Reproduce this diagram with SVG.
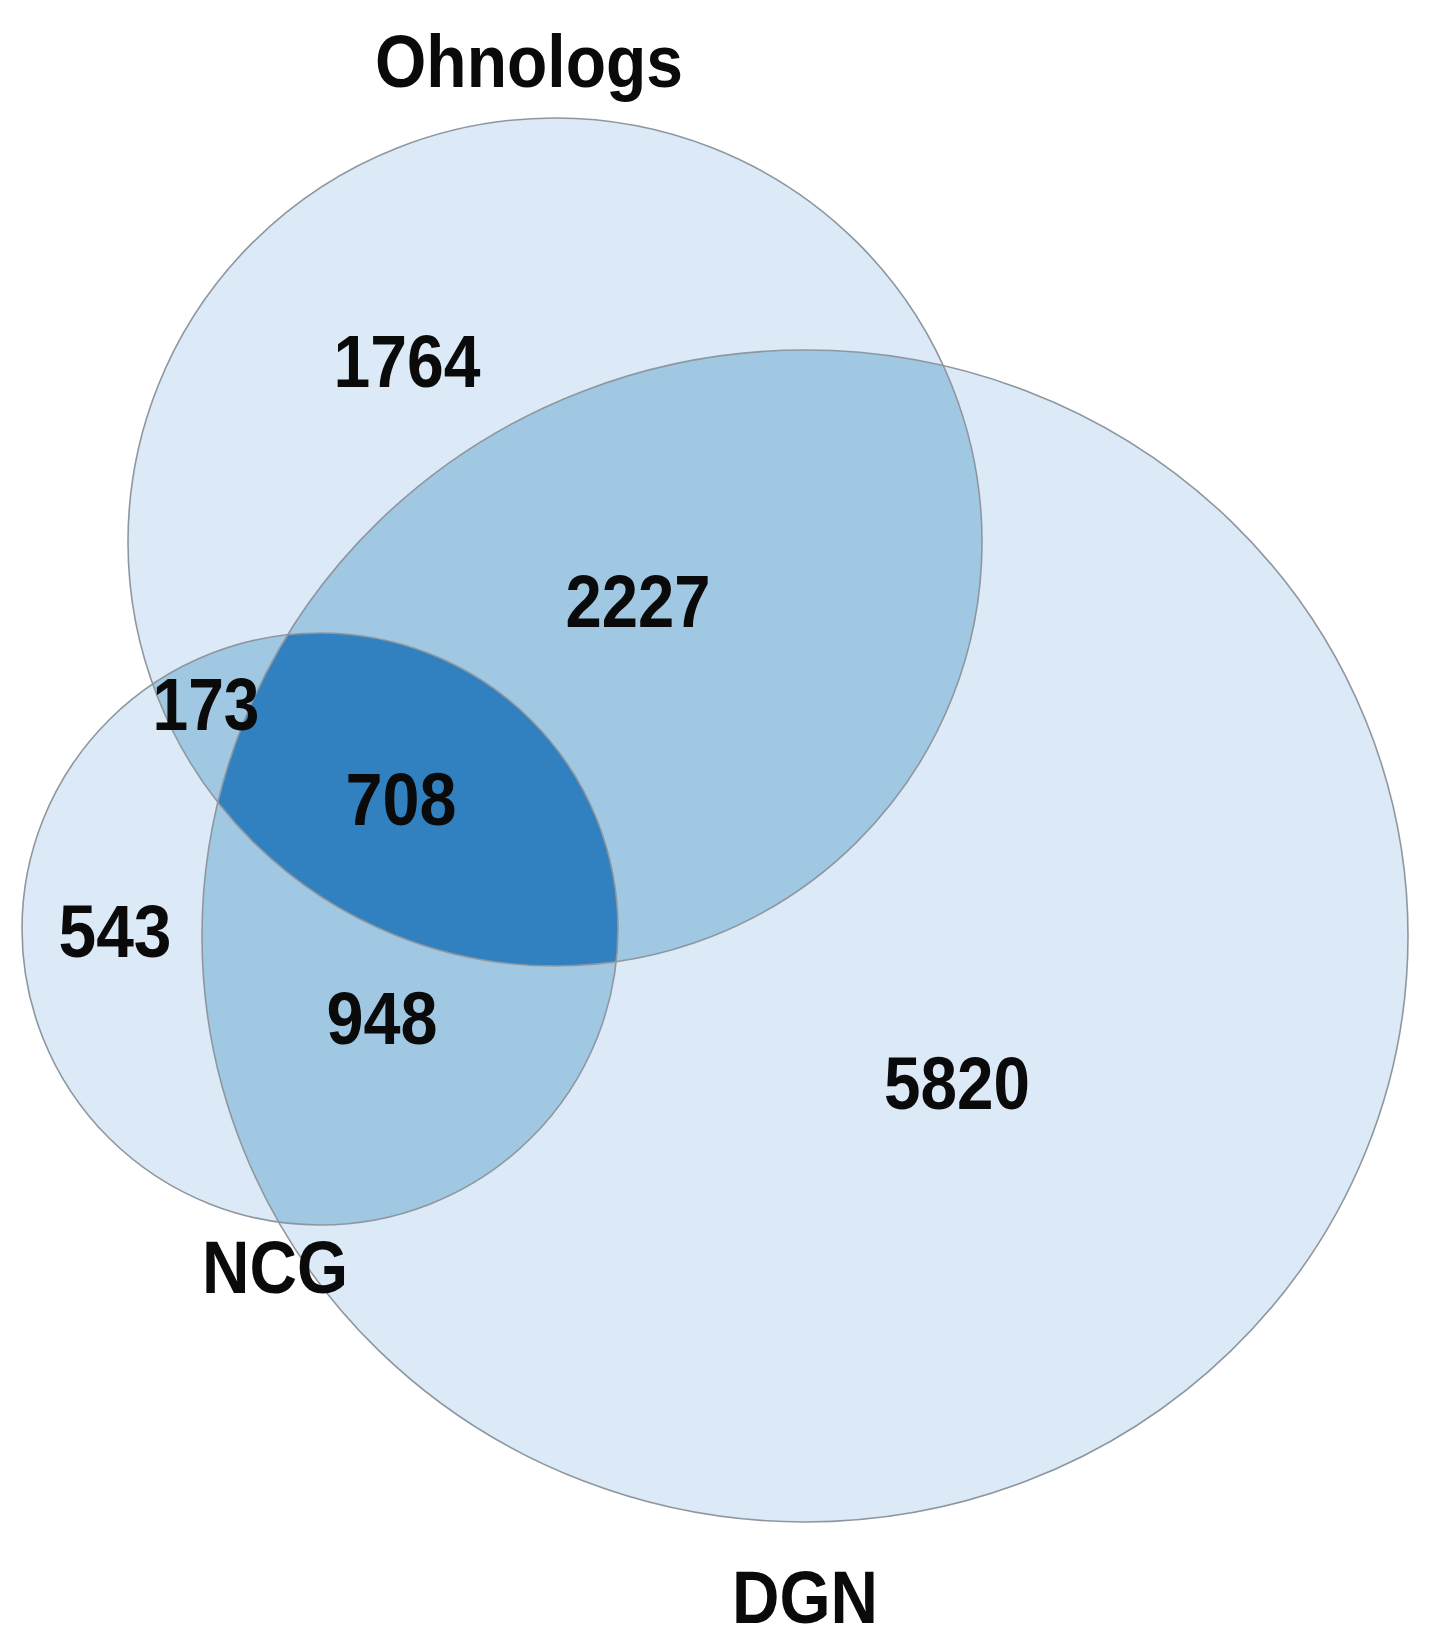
<svg xmlns="http://www.w3.org/2000/svg" width="1440" height="1648" viewBox="0 0 1440 1648">
<style>
.base{fill:#dce9f6}
.two{fill:#a0c8e2}
.three{fill:#3180c0}
.edge{fill:none;stroke:#8e979f;stroke-width:1.6}
.lbl{font-family:"Liberation Sans Narrow","Liberation Sans",Arial,sans-serif;font-weight:bold;font-size:74px;fill:#0a0a0a;text-anchor:middle}
</style>
<defs>
<clipPath id="cO"><ellipse cx="555" cy="542" rx="427" ry="424"/></clipPath>
<clipPath id="cD"><ellipse cx="805" cy="936" rx="603" ry="586"/></clipPath>
<clipPath id="cN"><ellipse cx="320" cy="929" rx="298" ry="296"/></clipPath>
</defs>
<rect width="1440" height="1648" fill="#ffffff"/>
<g id="fills">
<ellipse class="base" cx="555" cy="542" rx="427" ry="424"/>
<ellipse class="base" cx="805" cy="936" rx="603" ry="586"/>
<ellipse class="base" cx="320" cy="929" rx="298" ry="296"/>
<ellipse class="two" cx="805" cy="936" rx="603" ry="586" clip-path="url(#cO)"/>
<ellipse class="two" cx="320" cy="929" rx="298" ry="296" clip-path="url(#cO)"/>
<ellipse class="two" cx="320" cy="929" rx="298" ry="296" clip-path="url(#cD)"/>
<g clip-path="url(#cO)"><ellipse class="three" cx="320" cy="929" rx="298" ry="296" clip-path="url(#cD)"/></g>
</g>
<g id="ohnologs">
<ellipse class="edge" cx="555" cy="542" rx="427" ry="424"/>
<text class="lbl" x="529" y="87" textLength="308" lengthAdjust="spacingAndGlyphs">Ohnologs</text>
</g>
<g id="dgn">
<ellipse class="edge" cx="805" cy="936" rx="603" ry="586"/>
<text class="lbl" x="805" y="1623" textLength="146" lengthAdjust="spacingAndGlyphs">DGN</text>
</g>
<g id="ncg">
<ellipse class="edge" cx="320" cy="929" rx="298" ry="296"/>
<text class="lbl" x="275" y="1293" textLength="146" lengthAdjust="spacingAndGlyphs">NCG</text>
</g>
<g id="counts">
<text class="lbl" x="407" y="387" textLength="147" lengthAdjust="spacingAndGlyphs">1764</text>
<text class="lbl" x="638" y="627" textLength="145" lengthAdjust="spacingAndGlyphs">2227</text>
<text class="lbl" x="206" y="730" textLength="107" lengthAdjust="spacingAndGlyphs">173</text>
<text class="lbl" x="401" y="825" textLength="111" lengthAdjust="spacingAndGlyphs">708</text>
<text class="lbl" x="115" y="957" textLength="113" lengthAdjust="spacingAndGlyphs">543</text>
<text class="lbl" x="382" y="1044" textLength="111" lengthAdjust="spacingAndGlyphs">948</text>
<text class="lbl" x="957" y="1109" textLength="146" lengthAdjust="spacingAndGlyphs">5820</text>
</g>
</svg>
